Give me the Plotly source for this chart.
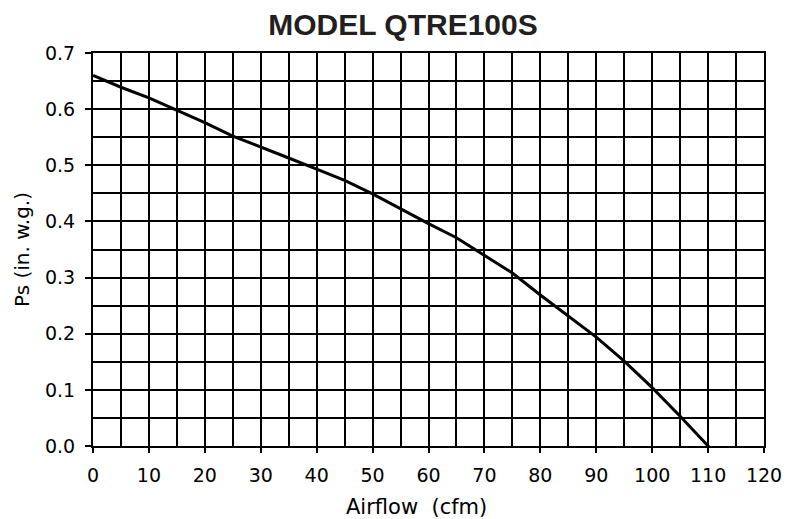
import plotly.graph_objects as go

airflow = [0, 5, 10, 15, 20, 25, 30, 35, 40, 45, 50, 55, 60, 65, 70, 75, 80, 85, 90, 95, 100, 105, 110, 110.9]
static_pressure = [0.66, 0.639, 0.62, 0.598, 0.576, 0.552, 0.533, 0.513, 0.493, 0.473, 0.449, 0.422,
                   0.396, 0.371, 0.339, 0.308, 0.269, 0.232, 0.194, 0.151, 0.104, 0.053, 0.0, -0.0095]

x_ticks = [0, 10, 20, 30, 40, 50, 60, 70, 80, 90, 100, 110, 120]
y_ticks = [0.0, 0.1, 0.2, 0.3, 0.4, 0.5, 0.6, 0.7]

title_text = "MODEL QTRE100S"
x_title = "Airflow  (cfm)"
y_title = "Ps (in. w.g.)"

FONT = "DejaVu Sans"
INK = "#000000"

# The page body has an 8px default margin, so the figure is made 8px smaller
# and the margins are shifted to put the plot where the reference has it.
fig = go.Figure()
fig.add_trace(go.Scatter(
    x=airflow, y=static_pressure, mode="lines",
    line=dict(color=INK, width=3), showlegend=False, hoverinfo="skip",
))

fig.update_layout(
    width=784, height=511,
    margin=dict(l=85, r=28, t=45, b=73, autoexpand=False),
    paper_bgcolor="white", plot_bgcolor="white",
    title=dict(text=title_text, xref="container", x=395 / 784, xanchor="center",
               yref="container", y=1 - 16 / 511, yanchor="middle",
               font=dict(family="Liberation Sans, Arial", size=30, color="#231f20", weight="bold")),
    font=dict(family=FONT, size=19, color=INK),
)

fig.add_annotation(
    text=x_title, xref="paper", yref="paper",
    x=(416 - 93) / 671, y=-(507 - 446) / 393, xanchor="center", yanchor="middle",
    showarrow=False, font=dict(family=FONT, size=21, color=INK),
)

fig.update_xaxes(
    range=[0, 120], tickvals=x_ticks, ticktext=[str(v) for v in x_ticks],
    ticks="outside", ticklen=5, tickwidth=1.5, tickcolor=INK,
    showline=True, linewidth=2, linecolor=INK, mirror=True,
    showgrid=True, gridcolor=INK, gridwidth=1.5,
    minor=dict(dtick=5, tick0=0, showgrid=True, gridcolor=INK, gridwidth=1.5, ticks=""),
    zeroline=False, ticklabelstandoff=6,
    tickfont=dict(family=FONT, size=19, color=INK),
)
fig.update_yaxes(
    range=[0, 0.7], tickvals=y_ticks, ticktext=[f"{v:.1f}" for v in y_ticks],
    ticks="outside", ticklen=6, tickwidth=1.5, tickcolor=INK,
    showline=True, linewidth=2, linecolor=INK, mirror=True,
    showgrid=True, gridcolor=INK, gridwidth=1.5,
    minor=dict(dtick=0.05, tick0=0, showgrid=True, gridcolor=INK, gridwidth=1.5, ticks=""),
    zeroline=False, ticklabelstandoff=6,
    tickfont=dict(family=FONT, size=19, color=INK),
    title=dict(text=y_title, font=dict(family=FONT, size=20, color=INK), standoff=10),
)

fig.write_html("out.html")
